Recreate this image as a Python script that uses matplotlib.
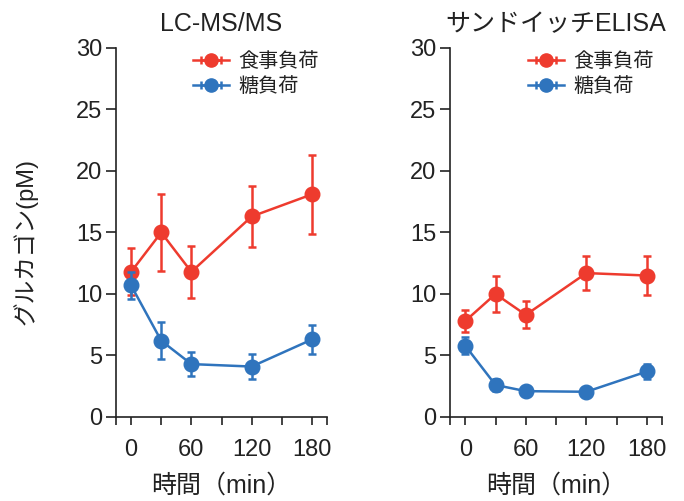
import numpy as np
import matplotlib
matplotlib.use("Agg")
import matplotlib.pyplot as plt

plt.rcParams['font.family'] = ['Liberation Sans', 'Noto Sans CJK JP', 'DejaVu Sans']

# Data
times = [0, 30, 60, 120, 180]

lc_meal = [11.8, 15.0, 11.8, 16.3, 18.1]
lc_meal_err = [1.9, 3.1, 2.1, 2.5, 3.2]
lc_sugar = [10.7, 6.2, 4.3, 4.1, 6.3]
lc_sugar_err = [1.1, 1.5, 0.95, 1.0, 1.2]

elisa_meal = [7.8, 10.0, 8.3, 11.7, 11.5]
elisa_meal_err = [0.9, 1.45, 1.1, 1.4, 1.55]
elisa_sugar = [5.8, 2.6, 2.1, 2.05, 3.7]
elisa_sugar_err = [0.7, 0.5, 0.4, 0.3, 0.6]

titles = ["LC-MS/MS", "サンドイッチELISA"]
series_names = ["食事負荷", "糖負荷"]
xticks = [-15, 0, 30, 60, 90, 120, 150, 180, 195]
xticklabels = ["", "0", "", "60", "", "120", "", "180", ""]
yticks = [0, 5, 10, 15, 20, 25, 30]

RED = "#EE3B2E"
BLUE = "#2F74BD"
DARK = "#222222"

fig = plt.figure(figsize=(6.84, 5.01), dpi=100)
axes = [fig.add_axes([0.1696, 0.1677, 0.3085, 0.7365]),
        fig.add_axes([0.658, 0.1677, 0.31, 0.7365])]

panels = [(lc_meal, lc_meal_err, lc_sugar, lc_sugar_err),
          (elisa_meal, elisa_meal_err, elisa_sugar, elisa_sugar_err)]

for ax, title, (meal, meal_err, sugar, sugar_err) in zip(axes, titles, panels):
    ax.errorbar(times, meal, yerr=meal_err, color=RED, marker='o', markersize=10.5,
                lw=1.8, elinewidth=1.8, capsize=3, capthick=1.8, clip_on=False, zorder=3)
    ax.errorbar(times, sugar, yerr=sugar_err, color=BLUE, marker='o', markersize=10.5,
                lw=1.8, elinewidth=1.8, capsize=3, capthick=1.8, clip_on=False, zorder=4)

    # legend handles with horizontal caps
    h1 = ax.errorbar([np.nan], [np.nan], xerr=[1], color=RED, marker='o', markersize=9.5,
                     lw=1.8, elinewidth=1.8, capsize=3, capthick=1.8)
    h2 = ax.errorbar([np.nan], [np.nan], xerr=[1], color=BLUE, marker='o', markersize=9.5,
                     lw=1.8, elinewidth=1.8, capsize=3, capthick=1.8)
    leg = ax.legend([h1, h2], series_names, loc='upper right', frameon=False,
                    fontsize=14.5, handlelength=1.8, handletextpad=0.45,
                    labelspacing=0.3, borderaxespad=0.0, bbox_to_anchor=(1.0, 1.01))
    for t in leg.get_texts():
        t.set_color(DARK)

    ax.set_xlim(-15, 195)
    ax.set_ylim(0, 30)
    ax.set_xticks(xticks)
    ax.set_xticklabels(xticklabels)
    ax.set_yticks(yticks)
    ax.spines['top'].set_visible(False)
    ax.spines['right'].set_visible(False)
    for s in ['left', 'bottom']:
        ax.spines[s].set_color(DARK)
        ax.spines[s].set_linewidth(1.2)
    ax.tick_params(axis='y', direction='out', length=7, width=1.2, colors=DARK,
                   labelsize=17, pad=3)
    ax.tick_params(axis='x', direction='out', length=6, width=1.2, colors=DARK,
                   labelsize=17, pad=10)
    ax.set_title(title, fontsize=18, color=DARK, pad=12)
    ax.set_xlabel("時間（min）", fontsize=18, color=DARK, labelpad=9)

fig.text(0.037, 0.517, "グルカゴン(pM)", rotation=90, ha='center', va='center',
         fontsize=17, color=DARK)

fig.savefig("out.png", dpi=100)
